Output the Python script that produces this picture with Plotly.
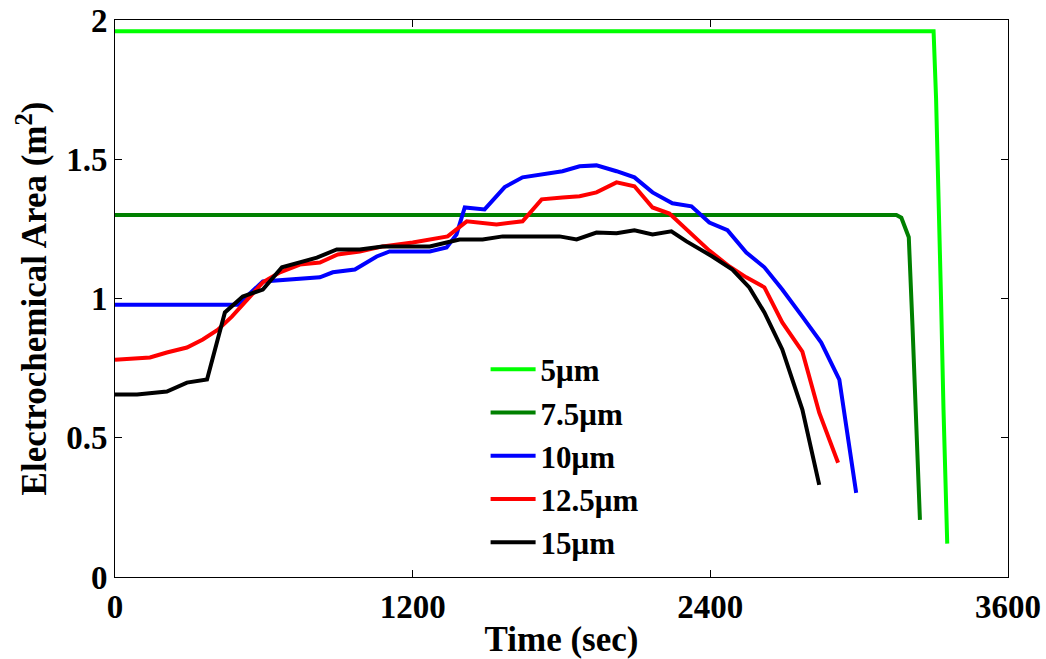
import plotly.graph_objects as go

# 5 um
t5 = [0, 3300, 3310, 3320, 3330, 3340, 3350, 3355]
a5 = [1.96, 1.96, 1.72, 1.40, 1.00, 0.60, 0.25, 0.12]
# 7.5 um
t75 = [0, 3150, 3170, 3200, 3215, 3230, 3245]
a75 = [1.30, 1.30, 1.29, 1.22, 0.90, 0.55, 0.205]
# 10 um
t10 = [0, 495, 596, 826, 878, 967, 1055, 1107, 1269, 1337, 1377, 1410, 1490, 1571, 1643,
       1724, 1804, 1873, 1941, 2022, 2094, 2167, 2247, 2324, 2396, 2469, 2545, 2618, 2690,
       2771, 2847, 2920, 2988]
a10 = [0.978, 0.978, 1.061, 1.076, 1.094, 1.104, 1.151, 1.169, 1.169, 1.183, 1.23, 1.327, 1.32,
       1.40, 1.435, 1.446, 1.457, 1.475, 1.478, 1.457, 1.435, 1.381, 1.342, 1.331, 1.273, 1.245,
       1.165, 1.112, 1.032, 0.935, 0.842, 0.709, 0.302]
# 12.5 um
t125 = [0, 141, 209, 290, 354, 415, 471, 531, 596, 665, 745, 826, 898, 987, 1079, 1200, 1281,
        1341, 1418, 1538, 1643, 1720, 1804, 1873, 1941, 2022, 2094, 2167, 2235, 2304, 2396,
        2477, 2545, 2618, 2690, 2771, 2839, 2915]
a125 = [0.78, 0.788, 0.806, 0.824, 0.853, 0.888, 0.935, 0.996, 1.058, 1.094, 1.122, 1.129,
        1.158, 1.169, 1.187, 1.201, 1.212, 1.223, 1.277, 1.266, 1.277, 1.356, 1.363, 1.367,
        1.381, 1.417, 1.403, 1.327, 1.305, 1.248, 1.172, 1.115, 1.076, 1.040, 0.914, 0.809,
        0.590, 0.41]
# 15 um
t15 = [0, 89, 209, 290, 371, 443, 515, 596, 673, 745, 814, 894, 987, 1079, 1269, 1337, 1389,
       1482, 1563, 1792, 1861, 1941, 2022, 2094, 2167, 2243, 2304, 2408, 2489, 2557, 2618,
       2690, 2771, 2839]
a15 = [0.655, 0.655, 0.666, 0.698, 0.709, 0.950, 1.007, 1.032, 1.112, 1.129, 1.147, 1.176,
       1.176, 1.187, 1.187, 1.201, 1.212, 1.212, 1.223, 1.223, 1.212, 1.237, 1.234, 1.245,
       1.230, 1.241, 1.205, 1.151, 1.104, 1.040, 0.950, 0.817, 0.601, 0.331]

names = ["5\u03bcm", "7.5\u03bcm", "10\u03bcm", "12.5\u03bcm", "15\u03bcm"]
colors = ["#00FF00", "#008000", "#0000FF", "#FF0000", "#000000"]
series = [(t5, a5), (t75, a75), (t10, a10), (t125, a125), (t15, a15)]

fig = go.Figure()
for (t, a), n, c in zip(series, names, colors):
    fig.add_trace(go.Scatter(x=t, y=a, mode="lines", name=n,
                             line=dict(color=c, width=4)))

font = "Liberation Serif"
axis_common = dict(showline=True, linecolor="black", linewidth=1, mirror="ticks",
                   ticks="inside", ticklen=7, tickcolor="black", showgrid=False,
                   zeroline=False, automargin=False, ticklabeloverflow="allow",
                   tickfont=dict(family=font, size=33, color="black", weight="bold"))

fig.update_layout(
    width=1046, height=659,
    paper_bgcolor="white", plot_bgcolor="white",
    margin=dict(l=115, r=38, t=20, b=82),
    xaxis=dict(range=[0, 3600], tickvals=[0, 1200, 2400, 3600],
               title=dict(text="Time (sec)", standoff=2,
                          font=dict(family=font, size=35, color="black", weight="bold")),
               **axis_common),
    yaxis=dict(range=[0, 2], tickvals=[0, 0.5, 1, 1.5, 2],
               ticktext=["0", "0.5", "1", "1.5", "2"],
               title=dict(text="Electrochemical Area (m<sup>2</sup>)", standoff=8,
                          font=dict(family=font, size=35, color="black", weight="bold")),
               **axis_common),
    legend=dict(x=0.415, y=0.421, xanchor="left", yanchor="top",
                bgcolor="rgba(0,0,0,0)", borderwidth=0, tracegroupgap=0,
                itemwidth=45,
                font=dict(family=font, size=31, color="black", weight="bold")),
    showlegend=True,
)

fig.write_html("out.html")
